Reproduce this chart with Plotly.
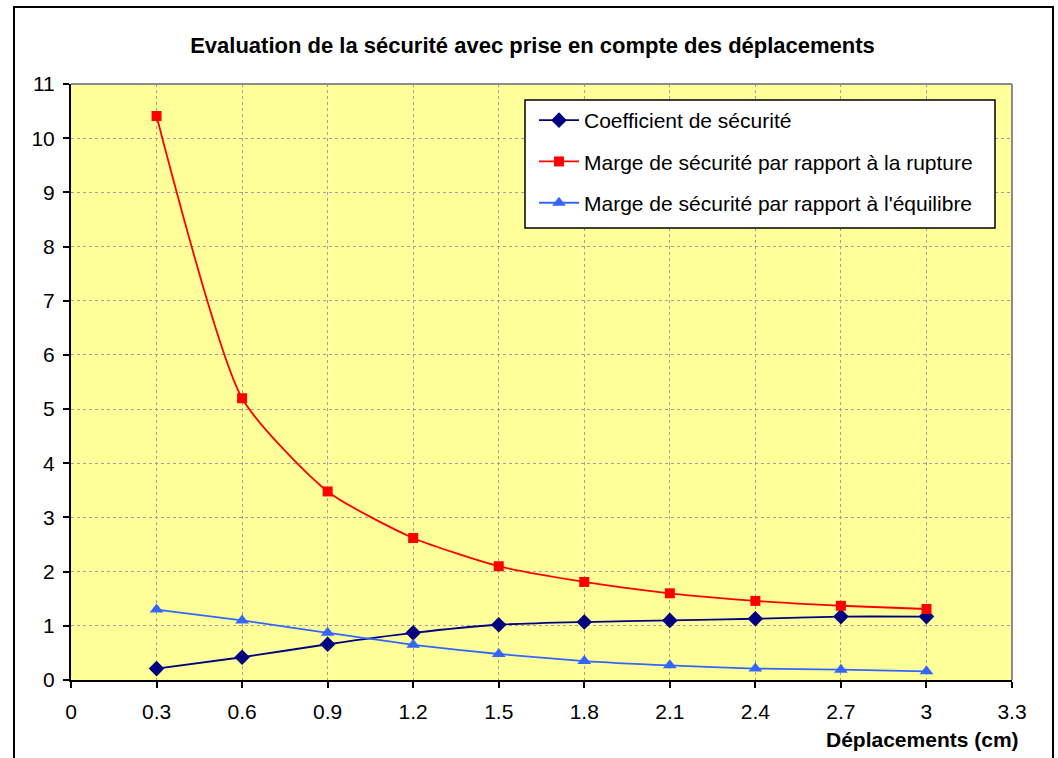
import plotly.graph_objects as go

# Displacement values (cm)
deplacements = [0.3, 0.6, 0.9, 1.2, 1.5, 1.8, 2.1, 2.4, 2.7, 3.0]

# Safety indicators for each displacement
coefficient = [0.21, 0.42, 0.66, 0.87, 1.02, 1.07, 1.10, 1.13, 1.17, 1.17]
marge_rupture = [10.41, 5.2, 3.48, 2.62, 2.1, 1.81, 1.6, 1.46, 1.37, 1.31]
marge_equilibre = [1.30, 1.10, 0.87, 0.65, 0.48, 0.35, 0.27, 0.21, 0.19, 0.16]

x_ticks = [0, 0.3, 0.6, 0.9, 1.2, 1.5, 1.8, 2.1, 2.4, 2.7, 3, 3.3]
y_ticks = list(range(0, 12))

font_family = "Liberation Sans, Arial, sans-serif"
fs = 21

fig = go.Figure()

fig.add_trace(go.Scatter(
    x=deplacements, y=coefficient, mode="lines+markers",
    name="Coefficient de sécurité", legendgroup="a",
    line=dict(color="#000080", width=1.8, shape="spline", smoothing=0.6),
    marker=dict(symbol="diamond", size=12, color="#000080"),
))
fig.add_trace(go.Scatter(
    x=deplacements, y=marge_rupture, mode="lines+markers",
    name="Marge de sécurité par rapport à la rupture", legendgroup="b",
    line=dict(color="#FF0000", width=1.8, shape="spline", smoothing=0.6),
    marker=dict(symbol="square", size=10, color="#FF0000"),
))
fig.add_trace(go.Scatter(
    x=deplacements, y=marge_equilibre, mode="lines+markers",
    name="Marge de sécurité par rapport à l'équilibre", legendgroup="c",
    line=dict(color="#3366FF", width=1.8, shape="spline", smoothing=0.6),
    marker=dict(symbol="triangle-up", size=12, color="#3366FF"),
))

L, R, T, B = 71, 46, 84, 78
W, H = 1058, 758
pw, ph = W - L - R, H - T - B

def px_x(p):
    return (p - L) / pw

def px_y(p):
    return (H - B - p) / ph

fig.update_layout(
    width=W, height=H,
    margin=dict(l=L, r=R, t=T, b=B),
    paper_bgcolor="white",
    plot_bgcolor="#FFFF99",
    font=dict(family=font_family, size=fs, color="black"),
    title=dict(
        text="<b>Evaluation de la sécurité avec prise en compte des déplacements</b>",
        x=px_x(532.5), xref="paper", xanchor="center",
        y=1 - 45 / H, yanchor="middle",
        font=dict(size=22, family=font_family, color="black"),
    ),
    showlegend=True,
    legend=dict(
        x=px_x(534), y=px_y(100), xanchor="left", yanchor="top",
        bgcolor="rgba(0,0,0,0)", borderwidth=0,
        font=dict(size=fs, family=font_family, color="black"),
        itemwidth=40, tracegroupgap=11,
    ),
    xaxis=dict(
        range=[0, 3.3], tickvals=x_ticks,
        ticktext=[("%g" % v) for v in x_ticks],
        showgrid=True, gridcolor="#a0a0a0", gridwidth=1, griddash="dot",
        showline=True, linecolor="black", linewidth=2,
        ticks="outside", ticklen=6, tickcolor="black", tickwidth=1.5,
        ticklabelstandoff=6,
        zeroline=False, mirror=False, fixedrange=True,
    ),
    yaxis=dict(
        range=[0, 11], tickvals=y_ticks,
        showgrid=True, gridcolor="#a0a0a0", gridwidth=1, griddash="dot",
        showline=True, linecolor="black", linewidth=2,
        ticks="outside", ticklen=6, tickcolor="black", tickwidth=1.5,
        ticklabelstandoff=4,
        zeroline=False, fixedrange=True,
    ),
    annotations=[dict(
        text="<b>Déplacements (cm)</b>", xref="paper", yref="paper",
        x=px_x(1021), y=px_y(739), xanchor="right", yanchor="middle",
        showarrow=False, font=dict(size=fs, family=font_family, color="black"),
    )],
    shapes=[
        # grey frame on the top and right of the plotting area
        dict(type="line", xref="paper", yref="paper", x0=0, x1=1, y0=1, y1=1,
             line=dict(color="#8c8c8c", width=2)),
        dict(type="line", xref="paper", yref="paper", x0=1, x1=1, y0=0, y1=1,
             line=dict(color="#8c8c8c", width=2)),
        # legend box
        dict(type="rect", xref="paper", yref="paper",
             x0=px_x(525), x1=px_x(995), y0=px_y(228), y1=px_y(100),
             line=dict(color="black", width=1.5), fillcolor="white",
             layer="above"),
        # outer chart border
        dict(type="rect", xref="paper", yref="paper",
             x0=px_x(14), x1=px_x(1053), y0=px_y(765), y1=px_y(7),
             line=dict(color="black", width=2), fillcolor="rgba(0,0,0,0)",
             layer="above"),
    ],
)

fig.write_html("out.html")
